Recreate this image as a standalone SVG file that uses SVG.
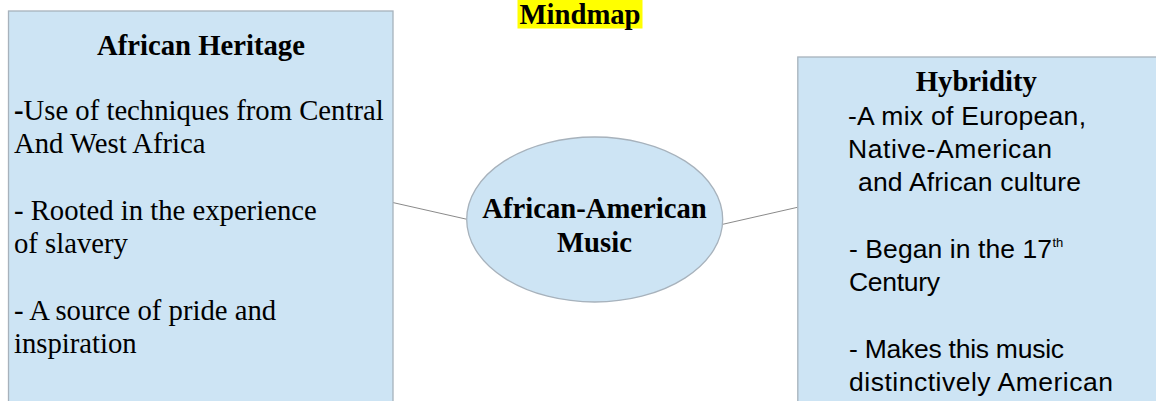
<svg xmlns="http://www.w3.org/2000/svg" width="1156" height="401" viewBox="0 0 1156 401">
<style>
.box{fill:#cde4f4;stroke:#a7b2bc;stroke-width:1.3}
.conn{stroke:#8a8a8a;stroke-width:1;fill:none}
.serif{font-family:"Liberation Serif","Times New Roman",serif;font-size:28.7px;fill:#000}
.b{font-weight:bold}
.sans{font-family:"Liberation Sans",Arial,sans-serif;font-size:26.5px;fill:#000}
.sup{font-family:"Liberation Sans",Arial,sans-serif;font-size:13px;fill:#000}
</style>
<rect x="0" y="0" width="1156" height="401" fill="#ffffff"/>
<g id="title">
<rect x="517.5" y="0" width="125" height="28.5" fill="#ffff00"/>
<text class="serif b" x="580" y="23.5" text-anchor="middle">Mindmap</text>
</g>
<g id="connectors">
<line class="conn" x1="392.7" y1="202.5" x2="466.5" y2="219.2"/>
<line class="conn" x1="722.7" y1="224.3" x2="797.5" y2="207.3"/>
</g>
<g id="african-heritage">
<rect class="box" x="8.5" y="11" width="384.5" height="400"/>
<text class="serif b" x="201" y="55" text-anchor="middle">African Heritage</text>
<text class="serif" x="14" y="120"><tspan class="b">-</tspan>Use of techniques from Central</text>
<text class="serif" x="14" y="153.3">And West Africa</text>
<text class="serif" x="14" y="220">- Rooted in the experience</text>
<text class="serif" x="14" y="253.3">of slavery</text>
<text class="serif" x="14" y="320">- A source of pride and</text>
<text class="serif" x="14" y="353.3">inspiration</text>
</g>
<g id="center">
<ellipse class="box" cx="594.7" cy="219.5" rx="128" ry="82.5"/>
<text class="serif b" x="594.5" y="218" text-anchor="middle">African-American</text>
<text class="serif b" x="594.5" y="252" text-anchor="middle">Music</text>
</g>
<g id="hybridity">
<rect class="box" x="797.8" y="57" width="400" height="400"/>
<text class="serif b" x="976.3" y="91" text-anchor="middle">Hybridity</text>
<text class="sans" x="848" y="125" textLength="238" lengthAdjust="spacing">-A mix of European,</text>
<text class="sans" x="848" y="158" textLength="204" lengthAdjust="spacing">Native-American</text>
<text class="sans" x="858" y="191" textLength="223" lengthAdjust="spacing">and African culture</text>
<text class="sans" x="849" y="258" textLength="203" lengthAdjust="spacing">- Began in the 17</text>
<text class="sup" x="1052.5" y="247">th</text>
<text class="sans" x="849" y="291" textLength="91" lengthAdjust="spacing">Century</text>
<text class="sans" x="849" y="358" textLength="215" lengthAdjust="spacing">- Makes this music</text>
<text class="sans" x="849" y="391" textLength="264" lengthAdjust="spacing">distinctively American</text>
</g>
</svg>
